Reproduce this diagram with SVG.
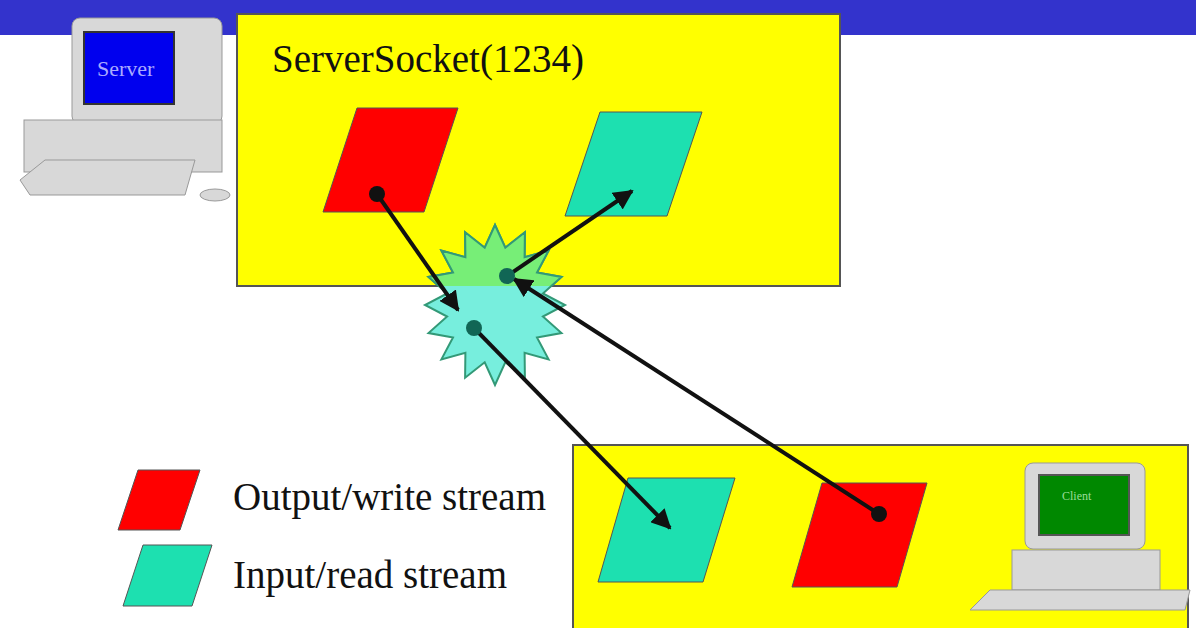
<svg xmlns="http://www.w3.org/2000/svg" width="1196" height="628" viewBox="0 0 1196 628">
<defs>
<style>
.box{fill:#ffff00;stroke:#555;stroke-width:2}
.red{fill:#ff0000;stroke:#555;stroke-width:1}
.cy{fill:#1de0b0;stroke:#555;stroke-width:1}
.ln{stroke:#111;stroke-width:4;fill:none}
.t{font-family:"Liberation Serif",serif;fill:#111}
.gray{fill:#d8d8d8;stroke:#999;stroke-width:1}
</style>
<marker id="ah" viewBox="0 0 10 10" refX="9" refY="5" markerWidth="5" markerHeight="5" orient="auto"><path d="M0,0L10,5L0,10z" fill="#111"/></marker>
<clipPath id="top"><rect x="0" y="0" width="1196" height="286"/></clipPath>
</defs>
<rect x="0" y="0" width="1196" height="35" fill="#3333cc"/>
<g id="server-box"><rect class="box" x="237" y="14" width="603" height="272"/>
<text class="t" x="272" y="72" font-size="39">ServerSocket(1234)</text></g>
<g id="client-box"><rect class="box" x="573" y="445" width="615" height="190"/></g>
<g id="server-out"><polygon class="red" points="323,212 357,108 458,108 424,212"/></g>
<g id="server-in"><polygon class="cy" points="565,216 600,112 702,112 667,216"/></g>
<g id="client-in"><polygon class="cy" points="598,582 628,478 735,478 703,582"/></g>
<g id="client-out"><polygon class="red" points="792,587 822,483 927,483 897,587"/></g>
<g id="star">
<polygon id="sp" fill="#77eedd" stroke="#339977" stroke-width="2" points="495.0,225.0 505.3,247.7 524.9,232.3 524.6,257.2 548.6,250.6 537.0,272.6 561.5,276.9 542.9,293.5 565.0,305.0 542.9,316.5 561.5,333.1 537.0,337.4 548.6,359.4 524.6,352.8 524.9,377.7 505.3,362.3 495.0,385.0 484.7,362.3 465.1,377.7 465.4,352.8 441.4,359.4 453.0,337.4 428.5,333.1 447.1,316.5 425.0,305.0 447.1,293.5 428.5,276.9 453.0,272.6 441.4,250.6 465.4,257.2 465.1,232.3 484.7,247.7"/>
<polygon clip-path="url(#top)" fill="#77ee77" stroke="#339977" stroke-width="2" points="495.0,225.0 505.3,247.7 524.9,232.3 524.6,257.2 548.6,250.6 537.0,272.6 561.5,276.9 542.9,293.5 565.0,305.0 542.9,316.5 561.5,333.1 537.0,337.4 548.6,359.4 524.6,352.8 524.9,377.7 505.3,362.3 495.0,385.0 484.7,362.3 465.1,377.7 465.4,352.8 441.4,359.4 453.0,337.4 428.5,333.1 447.1,316.5 425.0,305.0 447.1,293.5 428.5,276.9 453.0,272.6 441.4,250.6 465.4,257.2 465.1,232.3 484.7,247.7"/>
</g>
<g id="connectors">
<line class="ln" x1="377" y1="194" x2="458" y2="310" marker-end="url(#ah)"/>
<line class="ln" x1="507" y1="276" x2="632" y2="191" marker-end="url(#ah)"/>
<line class="ln" x1="474" y1="328" x2="670" y2="528" marker-end="url(#ah)"/>
<line class="ln" x1="879" y1="514" x2="514" y2="279" marker-end="url(#ah)"/>
<circle cx="377" cy="194" r="8" fill="#111"/>
<circle cx="507" cy="276" r="8" fill="#116655"/>
<circle cx="474" cy="328" r="8" fill="#116655"/>
<circle cx="879" cy="514" r="8" fill="#111"/>
</g>
<g id="legend">
<polygon class="red" points="118,530 138,470 200,470 180,530"/>
<polygon class="cy" points="123,606 143,545 212,545 192,606"/>
<text class="t" x="233" y="510" font-size="39">Output/write stream</text>
<text class="t" x="233" y="588" font-size="39">Input/read stream</text>
</g>
<g id="server-pc">
<rect class="gray" x="72" y="18" width="150" height="106" rx="8"/>
<rect x="84" y="32" width="90" height="72" fill="#0000ee" stroke="#333" stroke-width="2"/>
<text x="97" y="76" font-size="22" fill="#aaaaff" font-family="Liberation Serif,serif">Server</text>
<rect class="gray" x="24" y="120" width="198" height="52"/>
<polygon class="gray" points="20,180 45,160 195,160 185,195 30,195"/>
<ellipse cx="215" cy="195" rx="15" ry="6" class="gray"/>
</g>
<g id="client-pc">
<rect class="gray" x="1025" y="463" width="120" height="86" rx="8"/>
<rect x="1039" y="475" width="90" height="60" fill="#008800" stroke="#555" stroke-width="2"/>
<text x="1062" y="500" font-size="12" fill="#99dd99" font-family="Liberation Serif,serif">Client</text>
<rect class="gray" x="1012" y="550" width="148" height="40"/>
<polygon class="gray" points="970,610 990,590 1190,590 1185,610"/>
</g>
</svg>
